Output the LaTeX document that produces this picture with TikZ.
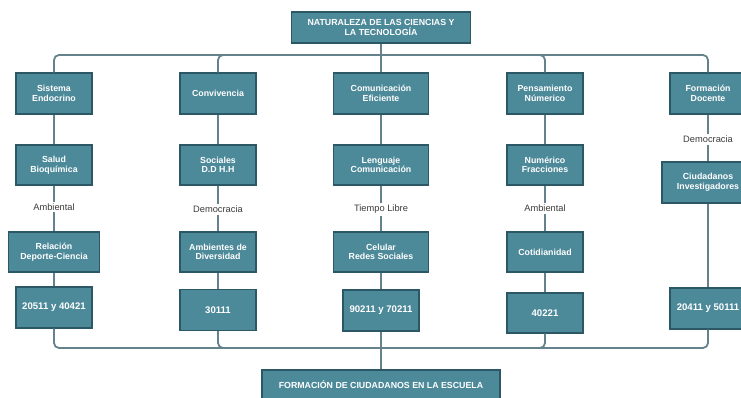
\documentclass[tikz,border=0pt]{standalone}
\usepackage{fontspec}
\setmainfont{Liberation Sans}
\definecolor{boxfill}{RGB}{76,137,153}
\definecolor{boxline}{RGB}{44,88,102}
\definecolor{conn}{RGB}{100,130,140}
\definecolor{lbl}{RGB}{60,60,60}
\begin{document}
\begin{tikzpicture}[x=1pt,y=-1pt,
  bx/.style={draw=boxline, fill=boxfill, line width=1.2pt, text=white,
    font=\bfseries\fontsize{8.8}{9.6}\selectfont, align=center, inner sep=0pt,
    minimum width=76pt, minimum height=41pt},
  nb/.style={bx, font=\bfseries\fontsize{9.6}{10}\selectfont},
  lb/.style={text=lbl, font=\fontsize{9.3}{10}\selectfont, inner sep=1.5pt, fill=white},
  cn/.style={draw=conn, line width=1.8pt, rounded corners=5pt}]
\useasboundingbox (0,0) rectangle (741,398);

% top and bottom
\node[bx, minimum width=179pt, minimum height=31pt] (top) at (381,27.5) {NATURALEZA DE LAS CIENCIAS Y\\LA TECNOLOGÍA};
\node[bx, minimum width=238pt, minimum height=30pt] (bot) at (381,385) {FORMACIÓN DE CIUDADANOS EN LA ESCUELA};

% row 1
\node[bx] (a1) at (54,93.5) {Sistema\\Endocrino};
\node[bx] (a2) at (218,93.5) {Convivencia};
\node[bx, minimum width=95pt] (a3) at (381,93.5) {Comunicación\\Eficiente};
\node[bx] (a4) at (545,93.5) {Pensamiento\\Númerico};
\node[bx] (a5) at (708,93.5) {Formación\\Docente};

% row 2
\node[bx, minimum height=40pt] (b1) at (54,165) {Salud\\Bioquímica};
\node[bx, minimum height=40pt] (b2) at (218,165) {Sociales\\D.D H.H};
\node[bx, minimum width=95pt, minimum height=40pt] (b3) at (381,165) {Lenguaje\\Comunicación};
\node[bx, minimum height=40pt] (b4) at (545,165) {Numérico\\Fracciones};
\node[bx, minimum width=92pt, minimum height=41pt] (b5) at (708,182.5) {Ciudadanos\\Investigadores};

% labels
\node[lb] (l1) at (54,207) {Ambiental};
\node[lb] (l2) at (218,209.5) {Democracia};
\node[lb] (l3) at (381,209.5) {Tiempo Libre};
\node[lb] (l4) at (545,208.5) {Ambiental};
\node[lb] (l5) at (708,139.5) {Democracia};

% row 3
\node[bx, minimum width=91pt, minimum height=40pt] (c1) at (54,252) {Relación\\Deporte-Ciencia};
\node[bx, minimum height=40pt] (c2) at (218,252) {Ambientes de\\Diversidad};
\node[bx, minimum width=95pt, minimum height=40pt] (c3) at (381,252) {Celular\\Redes Sociales};
\node[bx, minimum height=40pt] (c4) at (545,252) {Cotidianidad};

% row 4
\node[nb] (d1) at (54,307.5) {20511 y 40421};
\node[nb] (d2) at (218,310) {30111};
\node[nb] (d3) at (381,310.5) {90211 y 70211};
\node[nb, minimum height=40pt] (d4) at (545,313) {40221};
\node[nb] (d5) at (708,308.5) {20411 y 50111};

% top bus
\coordinate (tb) at (381,55);
\draw[cn] (top.south) -- (tb);
\draw[cn] (a1.north) |- (tb);
\draw[cn] (a5.north) |- (tb);
\draw[cn] (a2.north) |- (tb);
\draw[cn] (a4.north) |- (tb);
\draw[cn] (a3.north) -- (tb);

% columns
\draw[cn] (a1) -- (b1); \draw[cn] (b1) -- (l1); \draw[cn] (l1) -- (c1); \draw[cn] (c1) -- (d1);
\draw[cn] (a2) -- (b2); \draw[cn] (b2) -- (l2); \draw[cn] (l2) -- (c2); \draw[cn] (c2) -- (d2);
\draw[cn] (a3) -- (b3); \draw[cn] (b3) -- (l3); \draw[cn] (l3) -- (c3); \draw[cn] (c3) -- (d3);
\draw[cn] (a4) -- (b4); \draw[cn] (b4) -- (l4); \draw[cn] (l4) -- (c4); \draw[cn] (c4) -- (d4);
\draw[cn] (a5) -- (l5); \draw[cn] (l5) -- (b5); \draw[cn] (b5) -- (d5);

% bottom bus
\coordinate (bb) at (381,348);
\draw[cn] (d1.south) |- (bb);
\draw[cn] (d2.south) |- (bb);
\draw[cn] (d4.south) |- (bb);
\draw[cn] (d5.south) |- (bb);
\draw[cn] (d3.south) -- (bb);
\draw[cn, line width=2.2pt] (bb) -- (bot.north);
\end{tikzpicture}
\end{document}
